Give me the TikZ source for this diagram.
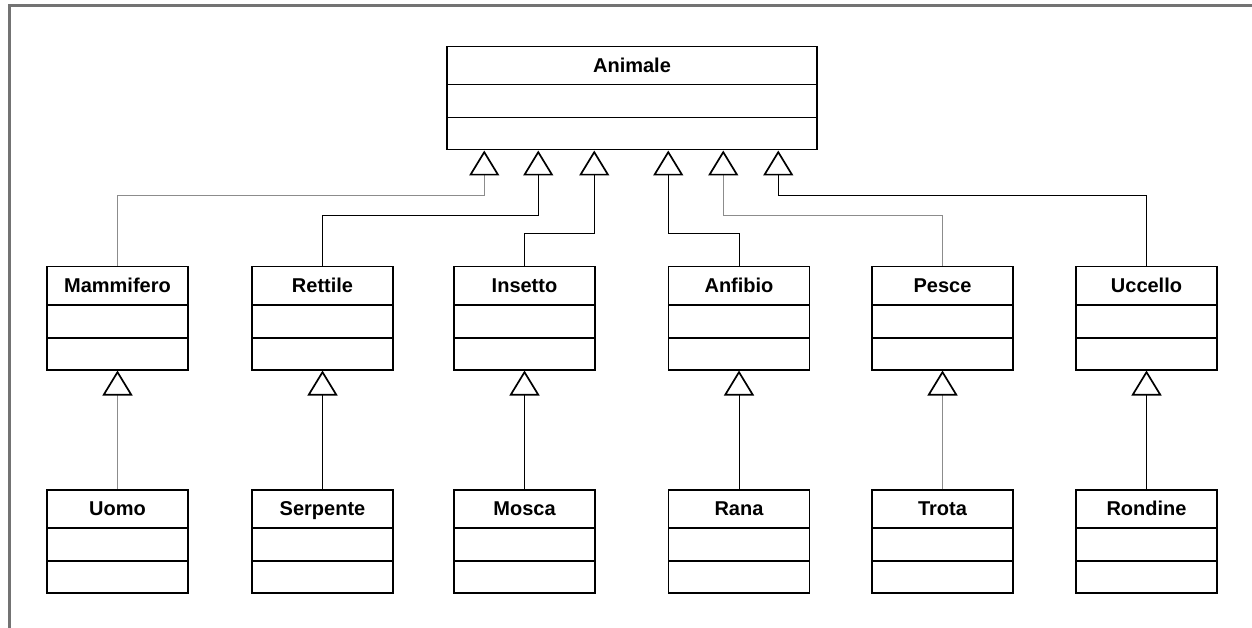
\documentclass[tikz,border=0pt]{standalone}
\usepackage{fontspec}
\setmainfont{Liberation Sans}
\usetikzlibrary{shapes.multipart,arrows.meta,calc}
\newcommand{\umlclass}[1]{\rule[-11.5pt]{0pt}{36.5pt}#1\nodepart{two}\rule{0pt}{31.5pt}\nodepart{three}\rule{0pt}{30.5pt}}

\begin{document}
\begin{tikzpicture}[x = 1pt, y = -1pt]
	\tikzstyle{every node} = [draw = black, line width = 1.5pt, rectangle split, rectangle split parts = 3, inner sep = 0pt, text width = 141pt, align = center, anchor = north, font = \fontsize{20}{24}\selectfont\bfseries]
	\tikzstyle{inh} = [line width = 1pt, -{Triangle[open, length = 25pt, width = 30pt, line width = 1.7pt, color = black]}]
	\tikzstyle{inhlight} = [inh, draw = black!45, line width = 0.8pt]
	\useasboundingbox (0, 0) rectangle (1252, 628);
	\path[draw, black!55, line width = 3pt] (9, 628) -- (9, 6) -- (1252, 6);

\node[text width = 370pt] (animale) at (632, 46) {\umlclass{Animale}};
\node (mammifero) at (117.5, 266) {\umlclass{Mammifero}};
\node (rettile) at (322.5, 266) {\umlclass{Rettile}};
\node (insetto) at (524.5, 266) {\umlclass{Insetto}};
\node (anfibio) at (739, 266) {\umlclass{Anfibio}};
\node (pesce) at (942.5, 266) {\umlclass{Pesce}};
\node (uccello) at (1146.5, 266) {\umlclass{Uccello}};
\node (uomo) at (117.5, 489) {\umlclass{Uomo}};
\node (serpente) at (322.5, 489) {\umlclass{Serpente}};
\node (mosca) at (524.5, 489) {\umlclass{Mosca}};
\node (rana) at (739, 489) {\umlclass{Rana}};
\node (trota) at (942.5, 489) {\umlclass{Trota}};
\node (rondine) at (1146.5, 489) {\umlclass{Rondine}};

	\coordinate (a1) at ($(animale.south west) + (38, 0)$);
	\coordinate (a2) at ($(animale.south west) + (92, 0)$);
	\coordinate (a3) at ($(animale.south west) + (148, 0)$);
	\coordinate (a4) at ($(animale.south west) + (222, 0)$);
	\coordinate (a5) at ($(animale.south west) + (277, 0)$);
	\coordinate (a6) at ($(animale.south west) + (332, 0)$);

	\path[draw, inhlight] (mammifero.north) |- ($(a1) + (0, 45)$) -- (a1);
	\path[draw, inh] (rettile.north) |- ($(a2) + (0, 65)$) -- (a2);
	\path[draw, inh] (insetto.north) |- ($(a3) + (0, 83)$) -- (a3);
	\path[draw, inh] (anfibio.north) |- ($(a4) + (0, 83)$) -- (a4);
	\path[draw, inhlight] (pesce.north) |- ($(a5) + (0, 65)$) -- (a5);
	\path[draw, inh] (uccello.north) |- ($(a6) + (0, 45)$) -- (a6);

	\path[draw, inhlight] (uomo) -- (mammifero.south);
	\path[draw, inh] (serpente) -- (rettile.south);
	\path[draw, inh] (mosca) -- (insetto.south);
	\path[draw, inh] (rana) -- (anfibio.south);
	\path[draw, inhlight] (trota) -- (pesce.south);
	\path[draw, inh] (rondine) -- (uccello.south);
	\end{tikzpicture}
\end{document}
